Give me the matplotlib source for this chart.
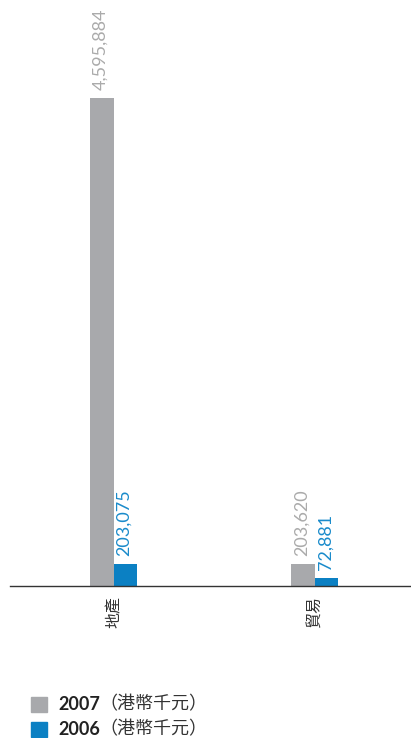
import matplotlib
matplotlib.use("Agg")
import matplotlib.pyplot as plt
import numpy as np

categories = ["地產", "貿易"]
values_2007 = [4595884, 203620]
values_2006 = [203075, 72881]
series_labels = ["2007", "2006"]
unit_label = "（港幣千元）"

grey = "#a8a9ac"
blue = "#0b80c3"
grey_text = "#ababab"
blue_text = "#1a8bcb"

plt.rcParams["font.family"] = ["Lato", "Noto Sans CJK TC", "DejaVu Sans"]

fig = plt.figure(figsize=(4.11, 7.38), dpi=100)
W, H = 411, 738
ax_bottom_px = 586
ax_top_px = 0
ax = fig.add_axes([10 / W, 1 - ax_bottom_px / H, 400 / W, (ax_bottom_px - ax_top_px) / H])

x = np.arange(len(categories))
bw = 0.117
ymax = values_2007[0] * (ax_bottom_px - ax_top_px) / 488
ax.set_ylim(0, ymax)
ax.set_xlim(-0.517, 1.473)

b1 = ax.bar(x - bw / 2, values_2007, width=bw, color=grey, zorder=2)
b2 = ax.bar(x + bw / 2, values_2006, width=bw, color=blue, zorder=2)

def fmt(v):
    return f"{v:,}"

for bars, vals, col in [(b1, values_2007, grey_text), (b2, values_2006, blue_text)]:
    for rect, v in zip(bars, vals):
        ax.annotate(fmt(v), (rect.get_x() + rect.get_width() / 2, v),
                    xytext=(-1, 6), textcoords="offset points",
                    rotation=90, ha="center", va="bottom",
                    fontsize=13, fontweight="normal", color=col,
                    annotation_clip=False)

for s in ["top", "right", "left"]:
    ax.spines[s].set_visible(False)
ax.spines["bottom"].set_color("#333333")
ax.spines["bottom"].set_linewidth(1.0)
ax.set_yticks([])
ax.set_xticks(x)
ax.set_xticklabels(categories, rotation=90, fontsize=11.5,
                   family=["Noto Sans CJK TC"], color="#333333", va="top")
ax.tick_params(axis="x", length=0, pad=7)
ax.patch.set_visible(False)

# legend
for i, (lab, col) in enumerate(zip(series_labels, [grey, blue])):
    ytop = 697 + i * 25
    fig.patches.append(plt.Rectangle((31 / W, 1 - (ytop + 15) / H), 16 / W, 15 / H,
                                     transform=fig.transFigure, color=col))
    t = fig.text(58 / W, 1 - (ytop + 7.5) / H, lab, fontsize=13, fontweight="bold",
                 color="#222222", va="center", ha="left")
    fig.canvas.draw()
    bb = t.get_window_extent()
    fig.text(bb.x1 / W, 1 - (ytop + 7.5) / H, unit_label, fontsize=13,
             family=["Noto Sans CJK TC"], color="#333333", va="center", ha="left")

fig.savefig("out.png", dpi=100)
